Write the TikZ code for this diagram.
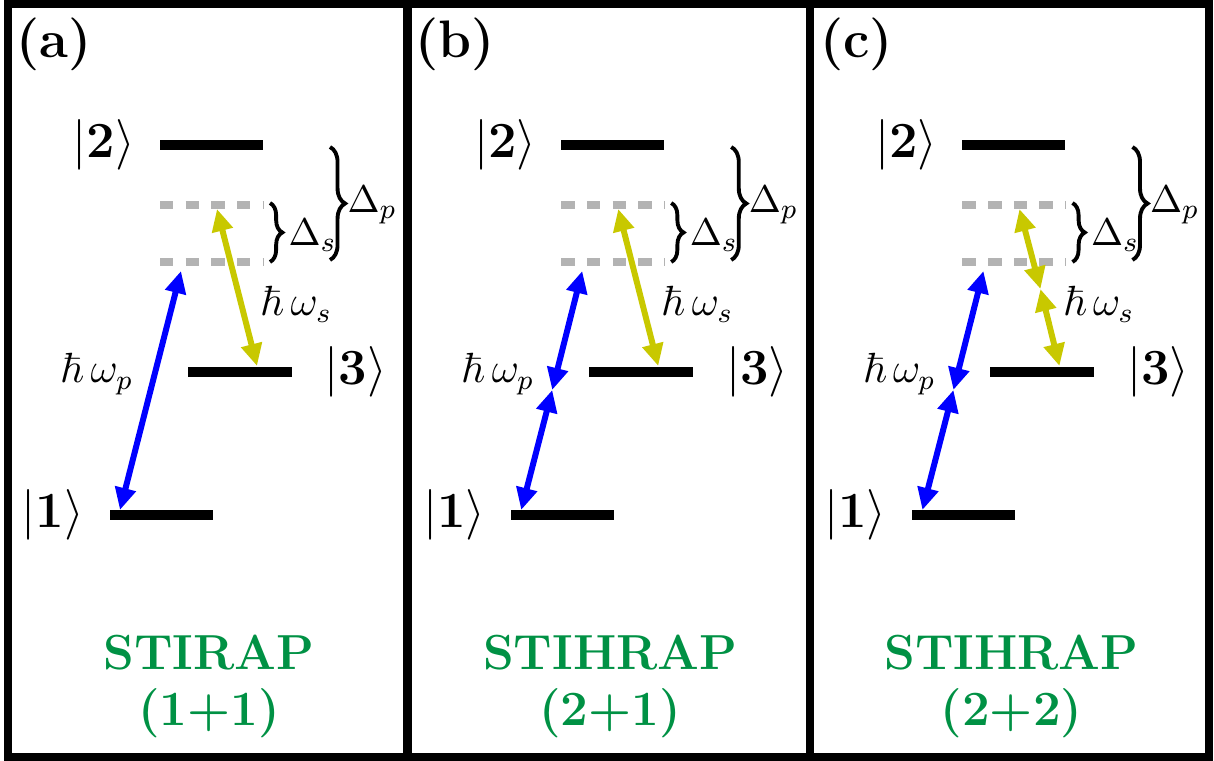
\documentclass[tikz,border=0pt]{standalone}
\usepackage{amsmath, amssymb}
\usepackage{tikz}
\usetikzlibrary{
  arrows.meta,%
  % enables the braces
  decorations.pathreplacing,%
  calc
}
\definecolor{pumpblue}{RGB}{0,0,255}
\definecolor{stokesyellow}{RGB}{200,200,0}
\definecolor{schemegreen}{RGB}{0,145,68}
\definecolor{virtualgray}{RGB}{179,179,179}
\tikzset{>={Triangle[length=6.3pt,width=5.8pt]}}
\tikzset{
  frame/.style={line width=2.5pt},
  level/.style={line width=2.6pt},
  virtual/.style={line width=2pt, virtualgray, dash pattern=on 3.8pt off 3.5pt},
  pump/.style={<->, line width=1.7pt, pumpblue},
  stokes/.style={<->, line width=1.7pt, stokesyellow},
  detbrace/.style={decorate, decoration={brace, amplitude=#1}, line width=1.1pt},
  detbrace/.default=3.5pt,
  ket/.style={inner sep=0pt, font=\fontsize{14.4}{16}\selectfont},
  photon/.style={inner sep=0pt, anchor=base west, font=\fontsize{12}{14}\selectfont},
  detuning/.style={inner sep=0pt, anchor=base west, font=\fontsize{10.95}{13}\selectfont},
  panel tag/.style={inner sep=0pt, font=\fontsize{15}{17}\selectfont\bfseries},
  scheme/.style={inner sep=0pt, schemegreen, font=\fontsize{14}{16}\selectfont\bfseries}
}

\begin{document}
\begin{tikzpicture}[x=0.01cm, y=-0.01cm]
  \useasboundingbox (0,0) rectangle (1214,761);
  % frames of the three panels
  \draw[frame] (8,4) rectangle (1209,757);
  \draw[frame] (407.5,4) -- (407.5,757) (810,4) -- (810,757);
  \foreach \p/\tag/\name/\order in {0/a/STIRAP/1+1, 1/b/STIHRAP/2+1, 2/c/STIHRAP/2+2}{
    \begin{scope}[xshift=\p*4.01cm]
      \node[panel tag] (tag-\tag) at (54,44) {(\tag)};
      % levels
      \draw[level] (160,145) -- (263,145);
      \draw[level] (188,372) -- (292,372);
      \draw[level] (110,515) -- (213,515);
      \draw[virtual] (160,205) -- (263,205);
      \draw[virtual] (160,262) -- (263,262);
      \node[ket] (ket2-\tag) at (104,145) {$|\mathbf{2}\rangle$};
      \node[ket] (ket3-\tag) at (356,372) {$|\mathbf{3}\rangle$};
      \node[ket] (ket1-\tag) at (53,515) {$|\mathbf{1}\rangle$};
      % detunings
      \coordinate (ds-top-\tag) at (270,203);
      \coordinate (ds-bot-\tag) at (270,262);
      \coordinate (dp-top-\tag) at (330,147);
      \coordinate (dp-bot-\tag) at (330,260);
      \draw[detbrace] (ds-top-\tag) -- (ds-bot-\tag);
      \draw[detbrace=4.3pt] (dp-top-\tag) -- (dp-bot-\tag);
      \node[detuning] (ds-\tag) at (288,246) {$\Delta_s$};
      \node[detuning] (dp-\tag) at (347,213) {$\Delta_p$};
      % transitions
      \coordinate (p-low-\tag) at (120,510);
      \coordinate (p-mid-\tag) at (151,390);
      \coordinate (p-up-\tag) at (181,271);
      \coordinate (s-up-\tag) at (217,209);
      \coordinate (s-mid-\tag) at (238,289);
      \coordinate (s-low-\tag) at (257,366);
      \ifnum\p=0
        \draw[pump] (p-low-\tag) -- (p-up-\tag);
      \else
        \draw[pump] (p-low-\tag) -- (p-mid-\tag);
        \draw[pump] (p-mid-\tag) -- (p-up-\tag);
      \fi
      \ifnum\p=2
        \draw[stokes] (s-up-\tag) -- (s-mid-\tag);
        \draw[stokes] (s-mid-\tag) -- (s-low-\tag);
      \else
        \draw[stokes] (s-up-\tag) -- (s-low-\tag);
      \fi
      \node[photon] (wp-\tag) at (60,383) {$\hbar\,\omega_p$};
      \node[photon] (ws-\tag) at (260,316) {$\hbar\,\omega_s$};
      % scheme name
      \node[scheme] (name-\tag) at (209,653) {\name};
      \node[scheme] (order-\tag) at (209,713) {(\order)};
    \end{scope}
  }
\end{tikzpicture}
\end{document}
